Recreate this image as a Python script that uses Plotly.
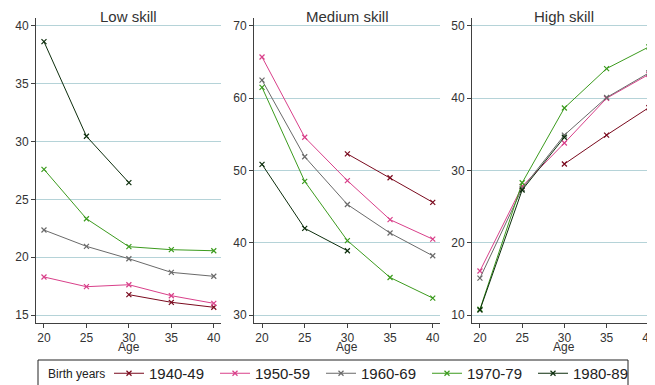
import plotly.graph_objects as go

ages = [20, 25, 30, 35, 40]
cohorts = ["1940-49", "1950-59", "1960-69", "1970-79", "1980-89"]
colors = ["#7a0a1e", "#d9408a", "#6a6a6a", "#3c9b1e", "#0d2e0d"]

low_skill = {
    "1940-49": [None, None, 16.76, 16.10, 15.67],
    "1950-59": [18.29, 17.45, 17.62, 16.67, 16.01],
    "1960-69": [22.35, 20.94, 19.87, 18.69, 18.35],
    "1970-79": [27.6, 23.33, 20.91, 20.65, 20.56],
    "1980-89": [38.64, 30.46, 26.45, None, None],
}
medium_skill = {
    "1940-49": [None, None, 52.3, 49.0, 45.6],
    "1950-59": [65.7, 54.6, 48.6, 43.2, 40.5],
    "1960-69": [62.5, 51.9, 45.3, 41.35, 38.2],
    "1970-79": [61.5, 48.5, 40.3, 35.2, 32.35],
    "1980-89": [50.85, 42.0, 38.9, None, None],
}
high_skill = {
    "1940-49": [None, None, 30.9, 34.9, 38.7],
    "1950-59": [16.1, 27.8, 33.8, 40.0, 43.3],
    "1960-69": [15.1, 27.5, 34.9, 40.1, 43.5],
    "1970-79": [10.8, 28.3, 38.65, 44.1, 47.1],
    "1980-89": [10.7, 27.3, 34.6, None, None],
}
panel_titles = ["Low skill", "Medium skill", "High skill"]
panels = [low_skill, medium_skill, high_skill]
y_ticks = [[15, 20, 25, 30, 35, 40], [30, 40, 50, 60, 70], [10, 20, 30, 40, 50]]
y_ranges = [[14.31, 40.69], [28.9, 71.1], [8.9, 51.1]]

# page has a body margin; figure is sized/offset to compensate
OFF = 7
W, H = 655 - OFF, 385 - OFF


def px_x(px):
    return min(1.0, max(0.0, (px - OFF) / W))


def px_y(py):
    return 1 - (py - OFF) / H


x_doms = [[px_x(35), px_x(220)], [px_x(253), px_x(439)], [px_x(471), px_x(655)]]
y_dom = [px_y(322), px_y(17)]

fig = go.Figure()
for p, data in enumerate(panels):
    sfx = "" if p == 0 else str(p + 1)
    for c, col in zip(cohorts, colors):
        fig.add_trace(go.Scatter(
            x=ages, y=data[c], mode="lines+markers", name=c,
            line=dict(color=col, width=1),
            marker=dict(symbol="x-thin", size=5, line=dict(color=col, width=1.2)),
            xaxis="x" + sfx, yaxis="y" + sfx,
            showlegend=(p == 0), legendgroup=c,
        ))

axis_font = dict(family="Liberation Sans, Arial, sans-serif", size=12, color="#333333")
layout = dict(
    width=W, height=H, margin=dict(l=0, r=0, t=0, b=0, autoexpand=False),
    paper_bgcolor="white", plot_bgcolor="white",
    font=dict(family="Liberation Sans, Arial, sans-serif", color="#333333"),
    legend=dict(
        orientation="h", x=px_x(108), xanchor="left", y=px_y(356), yanchor="top",
        borderwidth=0, bgcolor="rgba(0,0,0,0)",
        font=dict(size=15, color="#222222"),
        itemwidth=30, entrywidth=61, tracegroupgap=0,
    ),
    shapes=[dict(
        type="rect", xref="paper", yref="paper",
        x0=px_x(37), x1=px_x(627), y0=px_y(395), y1=px_y(359),
        line=dict(color="#222222", width=1), fillcolor="rgba(0,0,0,0)",
    )],
)
annotations = [dict(
    text="Birth years", x=px_x(45), y=px_y(373), xref="paper", yref="paper",
    xanchor="left", yanchor="middle", showarrow=False,
    font=dict(size=12, color="#222222"),
)]
for p in range(3):
    sfx = "" if p == 0 else str(p + 1)
    layout["xaxis" + sfx] = dict(
        domain=x_doms[p], range=[19.06, 40.85], anchor="y" + sfx,
        tickvals=ages, ticks="outside", ticklen=4, tickcolor="#404040",
        showline=True, linecolor="#404040", linewidth=1, showgrid=False,
        zeroline=False, tickfont=axis_font,
    )
    layout["yaxis" + sfx] = dict(
        domain=y_dom, range=y_ranges[p], anchor="x" + sfx,
        tickvals=y_ticks[p], ticks="outside", ticklen=4, tickcolor="#404040",
        showline=True, linecolor="#404040", linewidth=1,
        showgrid=True, gridcolor="#b5d3d8", gridwidth=1,
        zeroline=False, tickfont=axis_font,
    )
    annotations.append(dict(
        text=panel_titles[p], x=(x_doms[p][0] + x_doms[p][1]) / 2, y=px_y(15),
        xref="paper", yref="paper", xanchor="center", yanchor="middle",
        showarrow=False, font=dict(size=15, color="#333333"),
    ))
    annotations.append(dict(
        text="Age", x=30, y=px_y(346), xref="x" + sfx, yref="paper",
        xanchor="center", yanchor="middle", showarrow=False,
        font=dict(size=12, color="#333333"),
    ))
layout["annotations"] = annotations
fig.update_layout(**layout)
fig.write_html("out.html")
